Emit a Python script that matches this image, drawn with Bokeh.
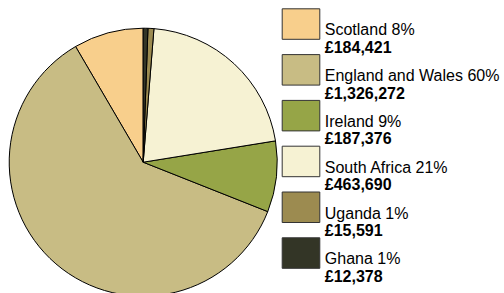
import numpy as np
from bokeh.plotting import figure
from bokeh.models import Range1d, ColumnDataSource
from bokeh.core.properties import value
from bokeh.embed import file_html
from bokeh.resources import INLINE

countries = ["Scotland", "England and Wales", "Ireland", "South Africa", "Uganda", "Ghana"]
amounts = [184421, 1326272, 187376, 463690, 15591, 12378]
percents = [8, 60, 9, 21, 1, 1]
colors = ["#F8CF8C", "#C8BC84", "#96A547", "#F6F2D3", "#9C8B50", "#333526"]

W, H = 504, 293
p = figure(width=W, height=H, output_backend="svg", toolbar_location=None,
           x_range=Range1d(0, W), y_range=Range1d(0, H), min_border=0)
p.axis.visible = False
p.grid.visible = False
p.outline_line_color = None
p.background_fill_color = "white"

vals = np.array(amounts, dtype=float)
frac = vals / vals.sum()
cum = np.concatenate([[0], np.cumsum(frac)])
start = np.pi / 2 + 2 * np.pi * cum[:-1]
end = np.pi / 2 + 2 * np.pi * cum[1:]

cx, cy, r = 142.7, H - 161.7, 134
src = ColumnDataSource(dict(start=start, end=end, color=colors))
p.wedge(x=cx, y=cy, radius=r, start_angle="start", end_angle="end",
        fill_color="color", line_color="black", line_width=1, source=src)

n = len(countries)
pitch = 45.8
idx = np.arange(n)
sw_y = H - (8.3 + 15.25 + pitch * idx)
p.rect(x=[300.5] * n, y=sw_y, width=37.6, height=30.5, fill_color=colors,
       line_color="#333333", line_width=1)

names = [f"{c} {pc}%" for c, pc in zip(countries, percents)]
money = ["£{:,}".format(a) for a in amounts]
p.text(x=[324.3] * n, y=H - (29.3 + pitch * idx), text=names,
       text_font=value("Liberation Sans"), text_font_size="16px",
       text_baseline="alphabetic", text_color="black")
p.text(x=[324.3] * n, y=H - (46.7 + pitch * idx), text=money,
       text_font=value("Liberation Sans"), text_font_size="16px",
       text_font_style="bold", text_baseline="alphabetic", text_color="black")

open("out.html", "w").write(file_html(p, INLINE))
